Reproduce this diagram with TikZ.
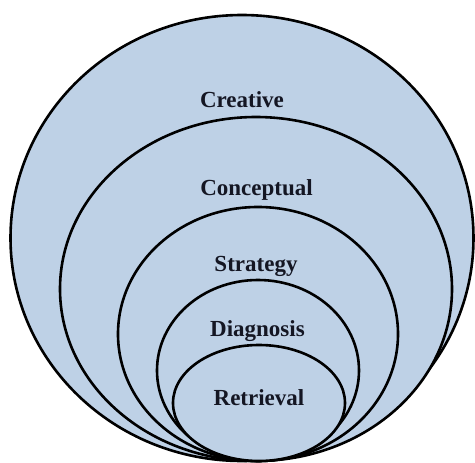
\documentclass[tikz,border=0pt]{standalone}
\usepackage{fontspec}
\setmainfont{Liberation Serif}
\definecolor{fillblue}{RGB}{190,209,230}
\definecolor{labeltext}{RGB}{20,22,35}
\begin{document}
\begin{tikzpicture}[x=1pt,y=-1pt,
  ring/.style={draw=black,line width=2.6pt,fill=fillblue},
  lbl/.style={font=\fontsize{23}{26}\selectfont\bfseries,text=labeltext,inner sep=0pt}]
\useasboundingbox (0,0) rectangle (475,463);
\path[ring] (242,238) ellipse [x radius=231.5, y radius=223];
\path[ring] (256,289) ellipse [x radius=196, y radius=172];
\path[ring] (258,334) ellipse [x radius=140, y radius=127];
\path[ring] (258,370.5) ellipse [x radius=101, y radius=90.5];
\path[ring] (259,403) ellipse [x radius=86, y radius=58];
\node[lbl] (creative) at (242,100) {Creative};
\node[lbl] (conceptual) at (256.5,190) {Conceptual};
\node[lbl] (strategy) at (256,266) {Strategy};
\node[lbl] (diagnosis) at (257.5,331) {Diagnosis};
\node[lbl] (retrieval) at (259,398) {Retrieval};
\end{tikzpicture}
\end{document}
